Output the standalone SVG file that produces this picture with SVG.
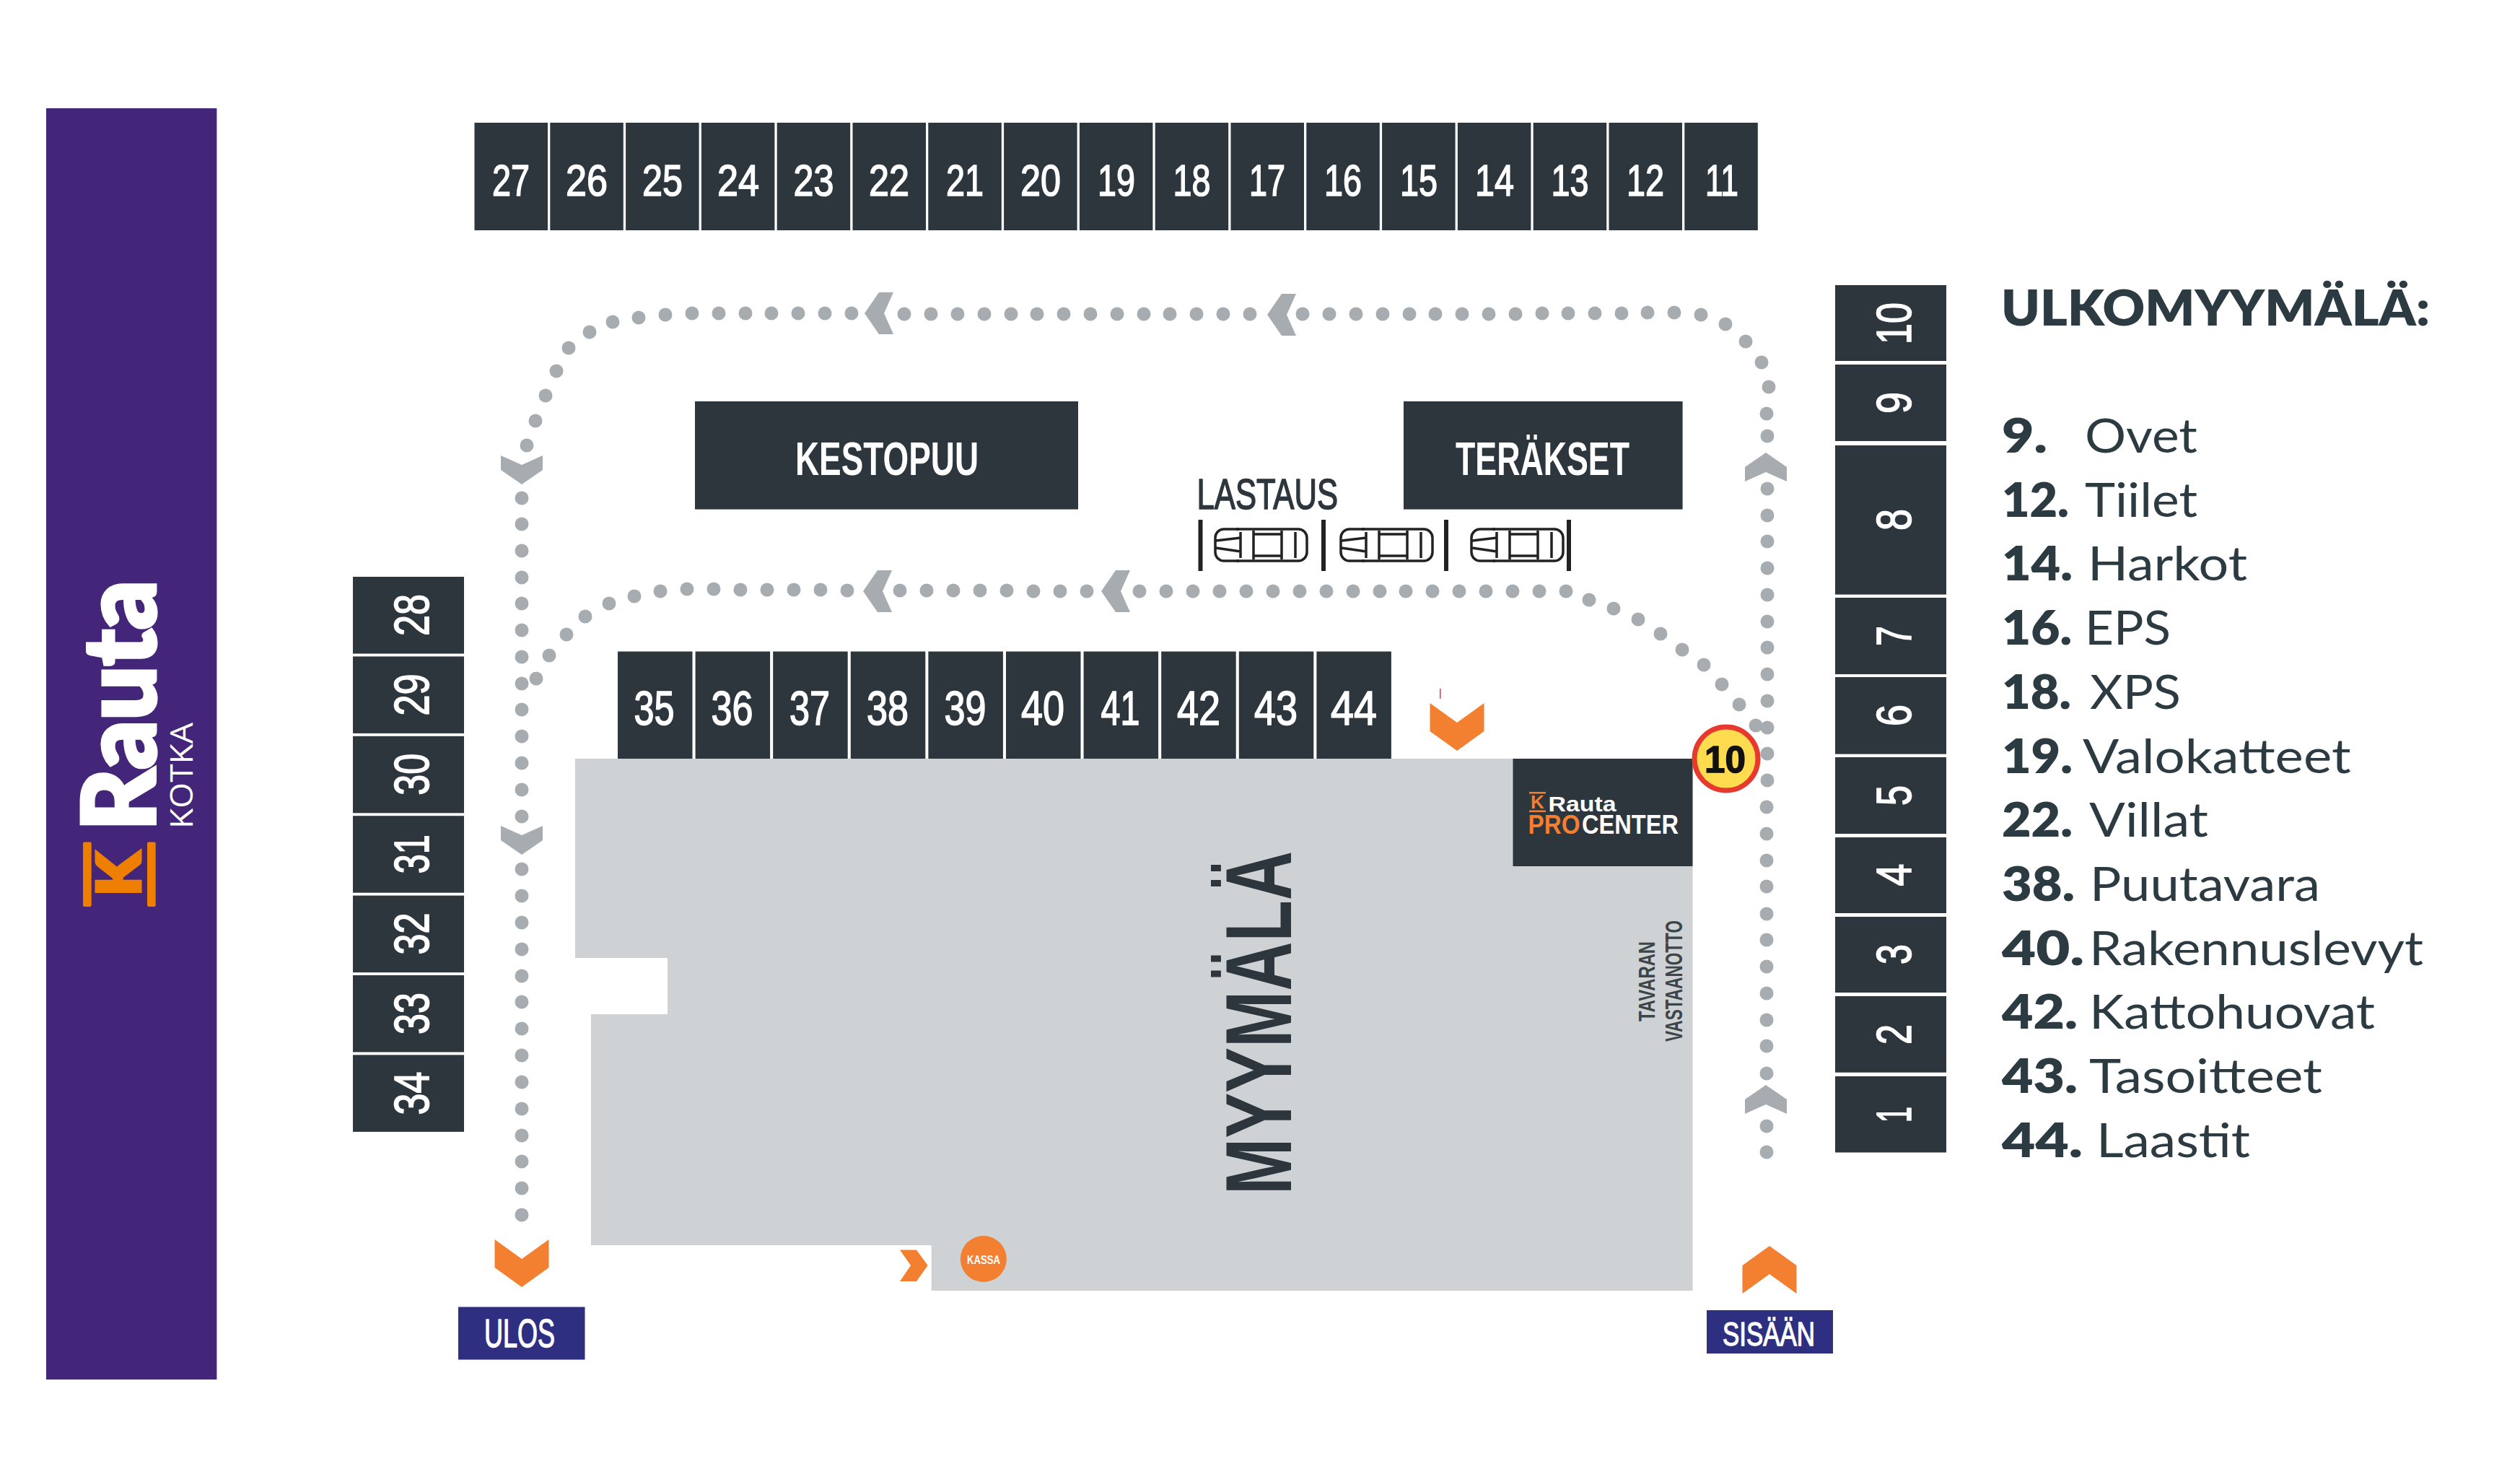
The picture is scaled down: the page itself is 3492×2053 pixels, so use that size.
<svg xmlns="http://www.w3.org/2000/svg" xmlns:xlink="http://www.w3.org/1999/xlink" width="3492" height="2053" viewBox="0 0 3492 2053">
<style>
text{font-family:"Liberation Sans Narrow","Liberation Sans",Arial,sans-serif}
.cell{fill:#2c363c}
.n{fill:#fff;text-anchor:middle;stroke:#fff;stroke-width:1.6}
.t{font-size:62px}
.r{font-size:66px}
.v{font-size:68px}
.sign{font-size:64px;fill:#fff;text-anchor:middle;font-weight:700}
.dot{fill:#a7acb0}
.gc{fill:#a7acb0}
.oc{fill:#f37f30}
.exit{fill:#2e2f80}
.ex{fill:#fff;text-anchor:middle;stroke:#fff;stroke-width:1.4}
.lg{font-family:Lato,"Open Sans",sans-serif;font-size:66px;fill:#2c3a42}
.lb{font-weight:800}
.bar{fill:#222}
.carb{fill:#fff;stroke:#222;stroke-width:3.5}
.carl{fill:none;stroke:#222;stroke-width:3.5}
</style>
<defs>
<polygon id="chev" points="0,-20 29,0 29,20 0,7 -29,20 -29,0"/>
<polygon id="ochev" points="0,-33 37.5,-6 37.5,33 0,6 -37.5,33 -37.5,-6"/>
<g id="car">
<rect class="carb" x="1" y="2" width="127" height="44" rx="12"/>
<path class="carl" d="M36 6V42M54 4V44M93 4V44M112 6V42M54 9H93M54 39H93M2 18L36 14M2 28L36 33M32 0V4M32 44V48"/>
</g>
</defs>
<rect width="3492" height="2053" fill="#fff"/>

<g id="banner">
<rect x="64" y="150" width="236.4" height="1761" fill="#43267a"/>
<text x="215.3" y="1151" transform="rotate(-90 215.3 1151)" font-size="140" font-weight="900" fill="#fff" stroke="#fff" stroke-width="5" textLength="347" lengthAdjust="spacingAndGlyphs" style="font-family:Lato,'Open Sans',sans-serif">Rauta</text>
<text x="266.7" y="1148" transform="rotate(-90 266.7 1148)" font-size="43" fill="#fff" textLength="147" lengthAdjust="spacingAndGlyphs" style="font-family:'Open Sans','Liberation Sans',sans-serif">KOTKA</text>
<rect x="115" y="1166.5" width="11.7" height="89.5" rx="2" fill="#ee7f00"/>
<rect x="204" y="1166.5" width="11.7" height="89.5" rx="2" fill="#ee7f00"/>
<text x="194.3" y="1241" transform="rotate(-90 194.3 1241)" font-size="82" font-weight="900" fill="#ee7f00" stroke="#ee7f00" stroke-width="5" textLength="60" lengthAdjust="spacingAndGlyphs" style="font-family:Lato,'Liberation Sans',sans-serif">K</text>
</g>

<g id="myymala">
<polygon points="797,1051 2345.6,1051 2345.6,1788 1290.7,1788 1290.7,1725 819,1725 819,1405 925,1405 925,1327 797,1327" fill="#cfd2d5"/>
<text x="1789" y="1655" transform="rotate(-90 1789 1655)" font-size="129" font-weight="700" fill="#2c363c" textLength="476" lengthAdjust="spacingAndGlyphs">MYYMÄLÄ</text>
<text x="2292.7" y="1415" transform="rotate(-90 2292.7 1415)" font-size="31" font-weight="700" fill="#3c4548" textLength="111" lengthAdjust="spacingAndGlyphs">TAVARAN</text>
<text x="2330.7" y="1443" transform="rotate(-90 2330.7 1443)" font-size="33" font-weight="700" fill="#3c4548" textLength="168" lengthAdjust="spacingAndGlyphs">VASTAANOTTO</text>
</g>

<g id="connectors">
<g id="outer-route">
<circle class="dot" cx="723" cy="690" r="9.5"/><circle class="dot" cx="723" cy="726" r="9.5"/><circle class="dot" cx="723" cy="763" r="9.5"/><circle class="dot" cx="723" cy="800" r="9.5"/><circle class="dot" cx="723" cy="836" r="9.5"/><circle class="dot" cx="723" cy="873" r="9.5"/><circle class="dot" cx="723" cy="910" r="9.5"/><circle class="dot" cx="723" cy="947" r="9.5"/><circle class="dot" cx="723" cy="983" r="9.5"/><circle class="dot" cx="723" cy="1020" r="9.5"/><circle class="dot" cx="723" cy="1057" r="9.5"/><circle class="dot" cx="723" cy="1094" r="9.5"/><circle class="dot" cx="723" cy="1131" r="9.5"/><circle class="dot" cx="723" cy="1204" r="9.5"/><circle class="dot" cx="723" cy="1241" r="9.5"/><circle class="dot" cx="723" cy="1278" r="9.5"/><circle class="dot" cx="723" cy="1315" r="9.5"/><circle class="dot" cx="723" cy="1352" r="9.5"/><circle class="dot" cx="723" cy="1388" r="9.5"/><circle class="dot" cx="723" cy="1425" r="9.5"/><circle class="dot" cx="723" cy="1462" r="9.5"/><circle class="dot" cx="723" cy="1499" r="9.5"/><circle class="dot" cx="723" cy="1536" r="9.5"/><circle class="dot" cx="723" cy="1573" r="9.5"/><circle class="dot" cx="723" cy="1609" r="9.5"/><circle class="dot" cx="723" cy="1646" r="9.5"/><circle class="dot" cx="723" cy="1683" r="9.5"/>
<circle class="dot" cx="730" cy="617" r="9.5"/><circle class="dot" cx="742" cy="583" r="9.5"/><circle class="dot" cx="756" cy="548" r="9.5"/><circle class="dot" cx="771" cy="514" r="9.5"/><circle class="dot" cx="788" cy="482" r="9.5"/><circle class="dot" cx="817" cy="460" r="9.5"/><circle class="dot" cx="849" cy="446" r="9.5"/><circle class="dot" cx="885" cy="440" r="9.5"/><circle class="dot" cx="922" cy="436" r="9.5"/>
<circle class="dot" cx="959" cy="434" r="9.5"/><circle class="dot" cx="996" cy="434" r="9.5"/><circle class="dot" cx="1033" cy="434" r="9.5"/><circle class="dot" cx="1069" cy="434" r="9.5"/><circle class="dot" cx="1106" cy="434" r="9.5"/><circle class="dot" cx="1143" cy="434" r="9.5"/><circle class="dot" cx="1180" cy="434" r="9.5"/><circle class="dot" cx="1253" cy="435" r="9.5"/><circle class="dot" cx="1290" cy="435" r="9.5"/><circle class="dot" cx="1327" cy="435" r="9.5"/><circle class="dot" cx="1364" cy="435" r="9.5"/><circle class="dot" cx="1401" cy="435" r="9.5"/><circle class="dot" cx="1437" cy="435" r="9.5"/><circle class="dot" cx="1474" cy="435" r="9.5"/><circle class="dot" cx="1511" cy="435" r="9.5"/><circle class="dot" cx="1548" cy="435" r="9.5"/><circle class="dot" cx="1585" cy="435" r="9.5"/><circle class="dot" cx="1621" cy="435" r="9.5"/><circle class="dot" cx="1658" cy="435" r="9.5"/><circle class="dot" cx="1695" cy="435" r="9.5"/><circle class="dot" cx="1732" cy="435" r="9.5"/><circle class="dot" cx="1805" cy="435" r="9.5"/><circle class="dot" cx="1842" cy="435" r="9.5"/><circle class="dot" cx="1879" cy="435" r="9.5"/><circle class="dot" cx="1916" cy="435" r="9.5"/><circle class="dot" cx="1953" cy="435" r="9.5"/><circle class="dot" cx="1989" cy="435" r="9.5"/><circle class="dot" cx="2026" cy="435" r="9.5"/><circle class="dot" cx="2063" cy="435" r="9.5"/><circle class="dot" cx="2100" cy="435" r="9.5"/><circle class="dot" cx="2137" cy="434" r="9.5"/><circle class="dot" cx="2173" cy="434" r="9.5"/><circle class="dot" cx="2210" cy="434" r="9.5"/><circle class="dot" cx="2247" cy="434" r="9.5"/><circle class="dot" cx="2283" cy="433" r="9.5"/><circle class="dot" cx="2320" cy="433" r="9.5"/>
<circle class="dot" cx="2357" cy="436" r="9.5"/><circle class="dot" cx="2391" cy="449" r="9.5"/><circle class="dot" cx="2419" cy="473" r="9.5"/><circle class="dot" cx="2441" cy="502" r="9.5"/><circle class="dot" cx="2451" cy="536" r="9.5"/><circle class="dot" cx="2448" cy="573" r="9.5"/><circle class="dot" cx="2449" cy="604" r="9.5"/>
<circle class="dot" cx="2449" cy="677" r="9.5"/><circle class="dot" cx="2449" cy="714" r="9.5"/><circle class="dot" cx="2449" cy="750" r="9.5"/><circle class="dot" cx="2449" cy="787" r="9.5"/><circle class="dot" cx="2449" cy="824" r="9.5"/><circle class="dot" cx="2449" cy="861" r="9.5"/><circle class="dot" cx="2449" cy="897" r="9.5"/><circle class="dot" cx="2449" cy="934" r="9.5"/><circle class="dot" cx="2449" cy="971" r="9.5"/><circle class="dot" cx="2449" cy="1008" r="9.5"/><circle class="dot" cx="2449" cy="1044" r="9.5"/><circle class="dot" cx="2449" cy="1081" r="9.5"/><circle class="dot" cx="2448" cy="1118" r="9.5"/><circle class="dot" cx="2448" cy="1155" r="9.5"/><circle class="dot" cx="2448" cy="1192" r="9.5"/><circle class="dot" cx="2448" cy="1228" r="9.5"/><circle class="dot" cx="2448" cy="1266" r="9.5"/><circle class="dot" cx="2448" cy="1302" r="9.5"/><circle class="dot" cx="2448" cy="1339" r="9.5"/><circle class="dot" cx="2448" cy="1376" r="9.5"/><circle class="dot" cx="2448" cy="1413" r="9.5"/><circle class="dot" cx="2448" cy="1449" r="9.5"/><circle class="dot" cx="2448" cy="1487" r="9.5"/><circle class="dot" cx="2448" cy="1560" r="9.5"/><circle class="dot" cx="2448" cy="1596" r="9.5"/>
</g>
<g id="inner-route">
<circle class="dot" cx="743" cy="940" r="9.5"/><circle class="dot" cx="761" cy="908" r="9.5"/><circle class="dot" cx="785" cy="879" r="9.5"/><circle class="dot" cx="811" cy="854" r="9.5"/><circle class="dot" cx="844" cy="836" r="9.5"/><circle class="dot" cx="879" cy="826" r="9.5"/><circle class="dot" cx="915" cy="819" r="9.5"/><circle class="dot" cx="952" cy="816" r="9.5"/>
<circle class="dot" cx="989" cy="816" r="9.5"/><circle class="dot" cx="1026" cy="817" r="9.5"/><circle class="dot" cx="1063" cy="817" r="9.5"/><circle class="dot" cx="1100" cy="817" r="9.5"/><circle class="dot" cx="1137" cy="817" r="9.5"/><circle class="dot" cx="1174" cy="818" r="9.5"/><circle class="dot" cx="1247" cy="818" r="9.5"/><circle class="dot" cx="1284" cy="818" r="9.5"/><circle class="dot" cx="1321" cy="818" r="9.5"/><circle class="dot" cx="1358" cy="818" r="9.5"/><circle class="dot" cx="1395" cy="818" r="9.5"/><circle class="dot" cx="1432" cy="819" r="9.5"/><circle class="dot" cx="1469" cy="819" r="9.5"/><circle class="dot" cx="1506" cy="819" r="9.5"/><circle class="dot" cx="1579" cy="819" r="9.5"/><circle class="dot" cx="1616" cy="819" r="9.5"/><circle class="dot" cx="1653" cy="819" r="9.5"/><circle class="dot" cx="1690" cy="819" r="9.5"/><circle class="dot" cx="1727" cy="819" r="9.5"/><circle class="dot" cx="1764" cy="819" r="9.5"/><circle class="dot" cx="1801" cy="819" r="9.5"/><circle class="dot" cx="1838" cy="819" r="9.5"/><circle class="dot" cx="1875" cy="819" r="9.5"/><circle class="dot" cx="1912" cy="819" r="9.5"/><circle class="dot" cx="1948" cy="819" r="9.5"/><circle class="dot" cx="1985" cy="819" r="9.5"/><circle class="dot" cx="2022" cy="819" r="9.5"/><circle class="dot" cx="2059" cy="819" r="9.5"/><circle class="dot" cx="2096" cy="819" r="9.5"/><circle class="dot" cx="2133" cy="819" r="9.5"/><circle class="dot" cx="2170" cy="819" r="9.5"/>
<circle class="dot" cx="2202" cy="831" r="9.5"/><circle class="dot" cx="2236" cy="843" r="9.5"/><circle class="dot" cx="2270" cy="858" r="9.5"/><circle class="dot" cx="2301" cy="878" r="9.5"/><circle class="dot" cx="2331" cy="900" r="9.5"/><circle class="dot" cx="2361" cy="921" r="9.5"/><circle class="dot" cx="2386" cy="948" r="9.5"/><circle class="dot" cx="2410" cy="976" r="9.5"/><circle class="dot" cx="2433" cy="1005" r="9.5"/>
</g>
<g id="route-arrows">
<use href="#chev" class="gc" transform="translate(2447 647)"/>
<use href="#chev" class="gc" transform="translate(2447 1523)"/>
<use href="#chev" class="gc" transform="translate(723 651) rotate(180)"/>
<use href="#chev" class="gc" transform="translate(723 1164) rotate(180)"/>
<use href="#chev" class="gc" transform="translate(1218 434) rotate(-90)"/>
<use href="#chev" class="gc" transform="translate(1776 436) rotate(-90)"/>
<use href="#chev" class="gc" transform="translate(1216 819) rotate(-90)"/>
<use href="#chev" class="gc" transform="translate(1546 819) rotate(-90)"/>
<use href="#ochev" class="oc" transform="translate(723 1750) rotate(180)"/>
<use href="#ochev" class="oc" transform="translate(2019 1007) rotate(180)"/>
<use href="#ochev" class="oc" transform="translate(2452 1759)"/>
<polygon class="oc" points="1247,1731.6 1270,1731.6 1285.6,1753 1270,1775 1247,1775 1262,1753"/>
<rect x="1995" y="954" width="1.5" height="14" fill="#e8392f"/>
</g>
</g>

<g id="n27"><rect class="cell" x="657.5" y="170" width="101.5" height="149"/><text class="n t" x="708" y="271" textLength="52" lengthAdjust="spacingAndGlyphs">27</text></g>
<g id="n26"><rect class="cell" x="762.3" y="170" width="101.5" height="149"/><text class="n t" x="813" y="271" textLength="58" lengthAdjust="spacingAndGlyphs">26</text></g>
<g id="n25"><rect class="cell" x="867.1" y="170" width="101.5" height="149"/><text class="n t" x="918" y="271" textLength="56" lengthAdjust="spacingAndGlyphs">25</text></g>
<g id="n24"><rect class="cell" x="971.9" y="170" width="101.5" height="149"/><text class="n t" x="1023" y="271" textLength="58" lengthAdjust="spacingAndGlyphs">24</text></g>
<g id="n23"><rect class="cell" x="1076.7" y="170" width="101.5" height="149"/><text class="n t" x="1127.5" y="271" textLength="56" lengthAdjust="spacingAndGlyphs">23</text></g>
<g id="n22"><rect class="cell" x="1181.5" y="170" width="101.5" height="149"/><text class="n t" x="1232" y="271" textLength="56" lengthAdjust="spacingAndGlyphs">22</text></g>
<g id="n21"><rect class="cell" x="1286.3" y="170" width="101.5" height="149"/><text class="n t" x="1337" y="271" textLength="52" lengthAdjust="spacingAndGlyphs">21</text></g>
<g id="n20"><rect class="cell" x="1391.1" y="170" width="101.5" height="149"/><text class="n t" x="1442" y="271" textLength="56" lengthAdjust="spacingAndGlyphs">20</text></g>
<g id="n19"><rect class="cell" x="1495.9" y="170" width="101.5" height="149"/><text class="n t" x="1547" y="271" textLength="52" lengthAdjust="spacingAndGlyphs">19</text></g>
<g id="n18"><rect class="cell" x="1600.7" y="170" width="101.5" height="149"/><text class="n t" x="1651.5" y="271" textLength="52" lengthAdjust="spacingAndGlyphs">18</text></g>
<g id="n17"><rect class="cell" x="1705.5" y="170" width="101.5" height="149"/><text class="n t" x="1756" y="271" textLength="50" lengthAdjust="spacingAndGlyphs">17</text></g>
<g id="n16"><rect class="cell" x="1810.3" y="170" width="101.5" height="149"/><text class="n t" x="1861" y="271" textLength="52" lengthAdjust="spacingAndGlyphs">16</text></g>
<g id="n15"><rect class="cell" x="1915.1" y="170" width="101.5" height="149"/><text class="n t" x="1966" y="271" textLength="52" lengthAdjust="spacingAndGlyphs">15</text></g>
<g id="n14"><rect class="cell" x="2019.9" y="170" width="101.5" height="149"/><text class="n t" x="2071" y="271" textLength="54" lengthAdjust="spacingAndGlyphs">14</text></g>
<g id="n13"><rect class="cell" x="2124.7" y="170" width="101.5" height="149"/><text class="n t" x="2175.5" y="271" textLength="52" lengthAdjust="spacingAndGlyphs">13</text></g>
<g id="n12"><rect class="cell" x="2229.5" y="170" width="101.5" height="149"/><text class="n t" x="2280" y="271" textLength="52" lengthAdjust="spacingAndGlyphs">12</text></g>
<g id="n11"><rect class="cell" x="2334.3" y="170" width="101.5" height="149"/><text class="n t" x="2386" y="271" textLength="46" lengthAdjust="spacingAndGlyphs">11</text></g>

<g id="n28"><rect class="cell" x="489" y="799" width="154" height="106.5"/><text class="n v" x="594" y="852" transform="rotate(-90 594 852)" textLength="58" lengthAdjust="spacingAndGlyphs">28</text></g>
<g id="n29"><rect class="cell" x="489" y="909.4" width="154" height="106.5"/><text class="n v" x="594" y="962.4" transform="rotate(-90 594 962.4)" textLength="58" lengthAdjust="spacingAndGlyphs">29</text></g>
<g id="n30"><rect class="cell" x="489" y="1019.8" width="154" height="106.5"/><text class="n v" x="594" y="1072.8" transform="rotate(-90 594 1072.8)" textLength="58" lengthAdjust="spacingAndGlyphs">30</text></g>
<g id="n31"><rect class="cell" x="489" y="1130.2" width="154" height="106.5"/><text class="n v" x="594" y="1183.2" transform="rotate(-90 594 1183.2)" textLength="54" lengthAdjust="spacingAndGlyphs">31</text></g>
<g id="n32"><rect class="cell" x="489" y="1240.6" width="154" height="106.5"/><text class="n v" x="594" y="1293.6" transform="rotate(-90 594 1293.6)" textLength="58" lengthAdjust="spacingAndGlyphs">32</text></g>
<g id="n33"><rect class="cell" x="489" y="1351" width="154" height="106.5"/><text class="n v" x="594" y="1404" transform="rotate(-90 594 1404)" textLength="58" lengthAdjust="spacingAndGlyphs">33</text></g>
<g id="n34"><rect class="cell" x="489" y="1461.4" width="154" height="106.5"/><text class="n v" x="594" y="1514.4" transform="rotate(-90 594 1514.4)" textLength="60" lengthAdjust="spacingAndGlyphs">34</text></g>

<g id="n35"><rect class="cell" x="856" y="902.5" width="103.5" height="148.5"/><text class="n r" x="906.6" y="1004" textLength="56" lengthAdjust="spacingAndGlyphs">35</text></g>
<g id="n36"><rect class="cell" x="963.6" y="902.5" width="103.5" height="148.5"/><text class="n r" x="1014.5" y="1004" textLength="58" lengthAdjust="spacingAndGlyphs">36</text></g>
<g id="n37"><rect class="cell" x="1071.2" y="902.5" width="103.5" height="148.5"/><text class="n r" x="1122" y="1004" textLength="56" lengthAdjust="spacingAndGlyphs">37</text></g>
<g id="n38"><rect class="cell" x="1178.8" y="902.5" width="103.5" height="148.5"/><text class="n r" x="1230" y="1004" textLength="58" lengthAdjust="spacingAndGlyphs">38</text></g>
<g id="n39"><rect class="cell" x="1286.4" y="902.5" width="103.5" height="148.5"/><text class="n r" x="1337.5" y="1004" textLength="58" lengthAdjust="spacingAndGlyphs">39</text></g>
<g id="n40"><rect class="cell" x="1394" y="902.5" width="103.5" height="148.5"/><text class="n r" x="1445" y="1004" textLength="60" lengthAdjust="spacingAndGlyphs">40</text></g>
<g id="n41"><rect class="cell" x="1501.6" y="902.5" width="103.5" height="148.5"/><text class="n r" x="1552.6" y="1004" textLength="54" lengthAdjust="spacingAndGlyphs">41</text></g>
<g id="n42"><rect class="cell" x="1609.2" y="902.5" width="103.5" height="148.5"/><text class="n r" x="1661" y="1004" textLength="60" lengthAdjust="spacingAndGlyphs">42</text></g>
<g id="n43"><rect class="cell" x="1716.8" y="902.5" width="103.5" height="148.5"/><text class="n r" x="1768" y="1004" textLength="60" lengthAdjust="spacingAndGlyphs">43</text></g>
<g id="n44"><rect class="cell" x="1824.4" y="902.5" width="103.5" height="148.5"/><text class="n r" x="1876" y="1004" textLength="64" lengthAdjust="spacingAndGlyphs">44</text></g>

<g id="n10"><rect class="cell" x="2543" y="395" width="154" height="105"/><text class="n v" x="2648" y="448" transform="rotate(-90 2648 448)" textLength="58" lengthAdjust="spacingAndGlyphs">10</text></g>
<g id="n9"><rect class="cell" x="2543" y="505" width="154" height="106"/><text class="n v" x="2648" y="558" transform="rotate(-90 2648 558)" textLength="30" lengthAdjust="spacingAndGlyphs">9</text></g>
<g id="n8"><rect class="cell" x="2543" y="617" width="154" height="206.6"/><text class="n v" x="2648" y="720" transform="rotate(-90 2648 720)" textLength="30" lengthAdjust="spacingAndGlyphs">8</text></g>
<g id="n7"><rect class="cell" x="2543" y="828" width="154" height="106"/><text class="n v" x="2648" y="881" transform="rotate(-90 2648 881)" textLength="28" lengthAdjust="spacingAndGlyphs">7</text></g>
<g id="n6"><rect class="cell" x="2543" y="938" width="154" height="106.6"/><text class="n v" x="2648" y="991" transform="rotate(-90 2648 991)" textLength="30" lengthAdjust="spacingAndGlyphs">6</text></g>
<g id="n5"><rect class="cell" x="2543" y="1049" width="154" height="106"/><text class="n v" x="2648" y="1102" transform="rotate(-90 2648 1102)" textLength="28" lengthAdjust="spacingAndGlyphs">5</text></g>
<g id="n4"><rect class="cell" x="2543" y="1160" width="154" height="105"/><text class="n v" x="2648" y="1212" transform="rotate(-90 2648 1212)" textLength="31" lengthAdjust="spacingAndGlyphs">4</text></g>
<g id="n3"><rect class="cell" x="2543" y="1270" width="154" height="105"/><text class="n v" x="2648" y="1322" transform="rotate(-90 2648 1322)" textLength="28" lengthAdjust="spacingAndGlyphs">3</text></g>
<g id="n2"><rect class="cell" x="2543" y="1380" width="154" height="105.7"/><text class="n v" x="2648" y="1433" transform="rotate(-90 2648 1433)" textLength="28" lengthAdjust="spacingAndGlyphs">2</text></g>
<g id="n1"><rect class="cell" x="2543" y="1491" width="154" height="105.5"/><text class="n v" x="2648" y="1544" transform="rotate(-90 2648 1544)" textLength="22" lengthAdjust="spacingAndGlyphs">1</text></g>

<g id="kestopuu"><rect class="cell" x="963" y="556" width="531" height="149.6"/><text class="sign" x="1229" y="658" textLength="254" lengthAdjust="spacingAndGlyphs">KESTOPUU</text></g>
<g id="terakset"><rect class="cell" x="1945" y="556" width="386.6" height="149.6"/><text class="sign" x="2137.5" y="658" textLength="241" lengthAdjust="spacingAndGlyphs">TERÄKSET</text></g>

<g id="lastaus">
<text x="1658.6" y="705" font-size="60" fill="#2c363c" stroke="#2c363c" stroke-width="1.6" textLength="195.4" lengthAdjust="spacingAndGlyphs">LASTAUS</text>
<rect class="bar" x="1660.5" y="720" width="6" height="71"/><rect class="bar" x="1831" y="720" width="6" height="71"/><rect class="bar" x="2001" y="720" width="6" height="71"/><rect class="bar" x="2171" y="720" width="6" height="71"/>
<use href="#car" transform="translate(1683 731)"/>
<use href="#car" transform="translate(1857 731)"/>
<use href="#car" transform="translate(2038 731)"/>
</g>

<g id="procenter">
<rect class="cell" x="2096.5" y="1051" width="249" height="149"/>
<rect x="2119" y="1097" width="23" height="2.5" fill="#f37f30"/><rect x="2119" y="1122.5" width="23" height="2.5" fill="#f37f30"/>
<text x="2130.5" y="1120" font-size="26" font-weight="700" fill="#f37f30" text-anchor="middle">K</text>
<text x="2145.6" y="1123.5" font-size="30" font-weight="700" fill="#fff" textLength="94" lengthAdjust="spacingAndGlyphs">Rauta</text>
<text x="2117.5" y="1154.6" font-size="36" font-weight="700" fill="#f37f30" textLength="72" lengthAdjust="spacingAndGlyphs">PRO</text>
<text x="2192" y="1154.6" font-size="36" font-weight="700" fill="#fff" textLength="134" lengthAdjust="spacingAndGlyphs">CENTER</text>
</g>

<g id="badge10">
<circle cx="2392" cy="1051" r="44" fill="#ffdc4f" stroke="#e8392f" stroke-width="7"/>
<text x="2390.5" y="1070" font-size="52" font-weight="700" fill="#111" stroke="#111" stroke-width="1.5" text-anchor="middle" textLength="57" lengthAdjust="spacingAndGlyphs" style="font-family:'Liberation Sans',sans-serif">10</text>
</g>

<g id="kassa">
<circle cx="1362.8" cy="1744" r="32" fill="#f37f30"/>
<text x="1363" y="1751" font-size="17" font-weight="700" fill="#fff" text-anchor="middle" textLength="46" lengthAdjust="spacingAndGlyphs">KASSA</text>
</g>

<g id="ulos"><rect class="exit" x="635" y="1810.5" width="175.5" height="73"/><text class="ex" x="720" y="1866" font-size="56" textLength="98" lengthAdjust="spacingAndGlyphs">ULOS</text></g>
<g id="sisaan"><rect class="exit" x="2365" y="1815" width="175" height="60"/><text class="ex" x="2451" y="1864" font-size="47" textLength="128" lengthAdjust="spacingAndGlyphs">SISÄÄN</text></g>

<g id="legend">
<text class="lg lb" x="2773" y="450.5" style="font-size:68px" textLength="594" lengthAdjust="spacingAndGlyphs">ULKOMYYMÄLÄ:</text>
<text class="lg lb" x="2774" y="627" textLength="63" lengthAdjust="spacingAndGlyphs">9.</text><text class="lg" x="2889" y="627" textLength="156" lengthAdjust="spacingAndGlyphs">Ovet</text>
<text class="lg lb" x="2774" y="715.7" textLength="93" lengthAdjust="spacingAndGlyphs">12.</text><text class="lg" x="2889" y="715.7" textLength="156" lengthAdjust="spacingAndGlyphs">Tiilet</text>
<text class="lg lb" x="2774" y="804.4" textLength="98" lengthAdjust="spacingAndGlyphs">14.</text><text class="lg" x="2893" y="804.4" textLength="221" lengthAdjust="spacingAndGlyphs">Harkot</text>
<text class="lg lb" x="2774" y="893" textLength="97" lengthAdjust="spacingAndGlyphs">16.</text><text class="lg" x="2889" y="893" textLength="119" lengthAdjust="spacingAndGlyphs">EPS</text>
<text class="lg lb" x="2774" y="981.8" textLength="96" lengthAdjust="spacingAndGlyphs">18.</text><text class="lg" x="2896" y="981.8" textLength="126" lengthAdjust="spacingAndGlyphs">XPS</text>
<text class="lg lb" x="2774" y="1070.5" textLength="98" lengthAdjust="spacingAndGlyphs">19.</text><text class="lg" x="2886" y="1070.5" textLength="371.6" lengthAdjust="spacingAndGlyphs">Valokatteet</text>
<text class="lg lb" x="2774" y="1159" textLength="98" lengthAdjust="spacingAndGlyphs">22.</text><text class="lg" x="2895" y="1159" textLength="165" lengthAdjust="spacingAndGlyphs">Villat</text>
<text class="lg lb" x="2774" y="1248" textLength="101" lengthAdjust="spacingAndGlyphs">38.</text><text class="lg" x="2896" y="1248" textLength="319" lengthAdjust="spacingAndGlyphs">Puutavara</text>
<text class="lg lb" x="2774" y="1336.6" textLength="114" lengthAdjust="spacingAndGlyphs">40.</text><text class="lg" x="2895" y="1336.6" textLength="463" lengthAdjust="spacingAndGlyphs">Rakennuslevyt</text>
<text class="lg lb" x="2774" y="1425.3" textLength="105" lengthAdjust="spacingAndGlyphs">42.</text><text class="lg" x="2895" y="1425.3" textLength="396" lengthAdjust="spacingAndGlyphs">Kattohuovat</text>
<text class="lg lb" x="2774" y="1514" textLength="105" lengthAdjust="spacingAndGlyphs">43.</text><text class="lg" x="2895" y="1514" textLength="323" lengthAdjust="spacingAndGlyphs">Tasoitteet</text>
<text class="lg lb" x="2774" y="1602.7" textLength="112" lengthAdjust="spacingAndGlyphs">44.</text><text class="lg" x="2905" y="1602.7" textLength="213" lengthAdjust="spacingAndGlyphs">Laastit</text>
</g>
</svg>
